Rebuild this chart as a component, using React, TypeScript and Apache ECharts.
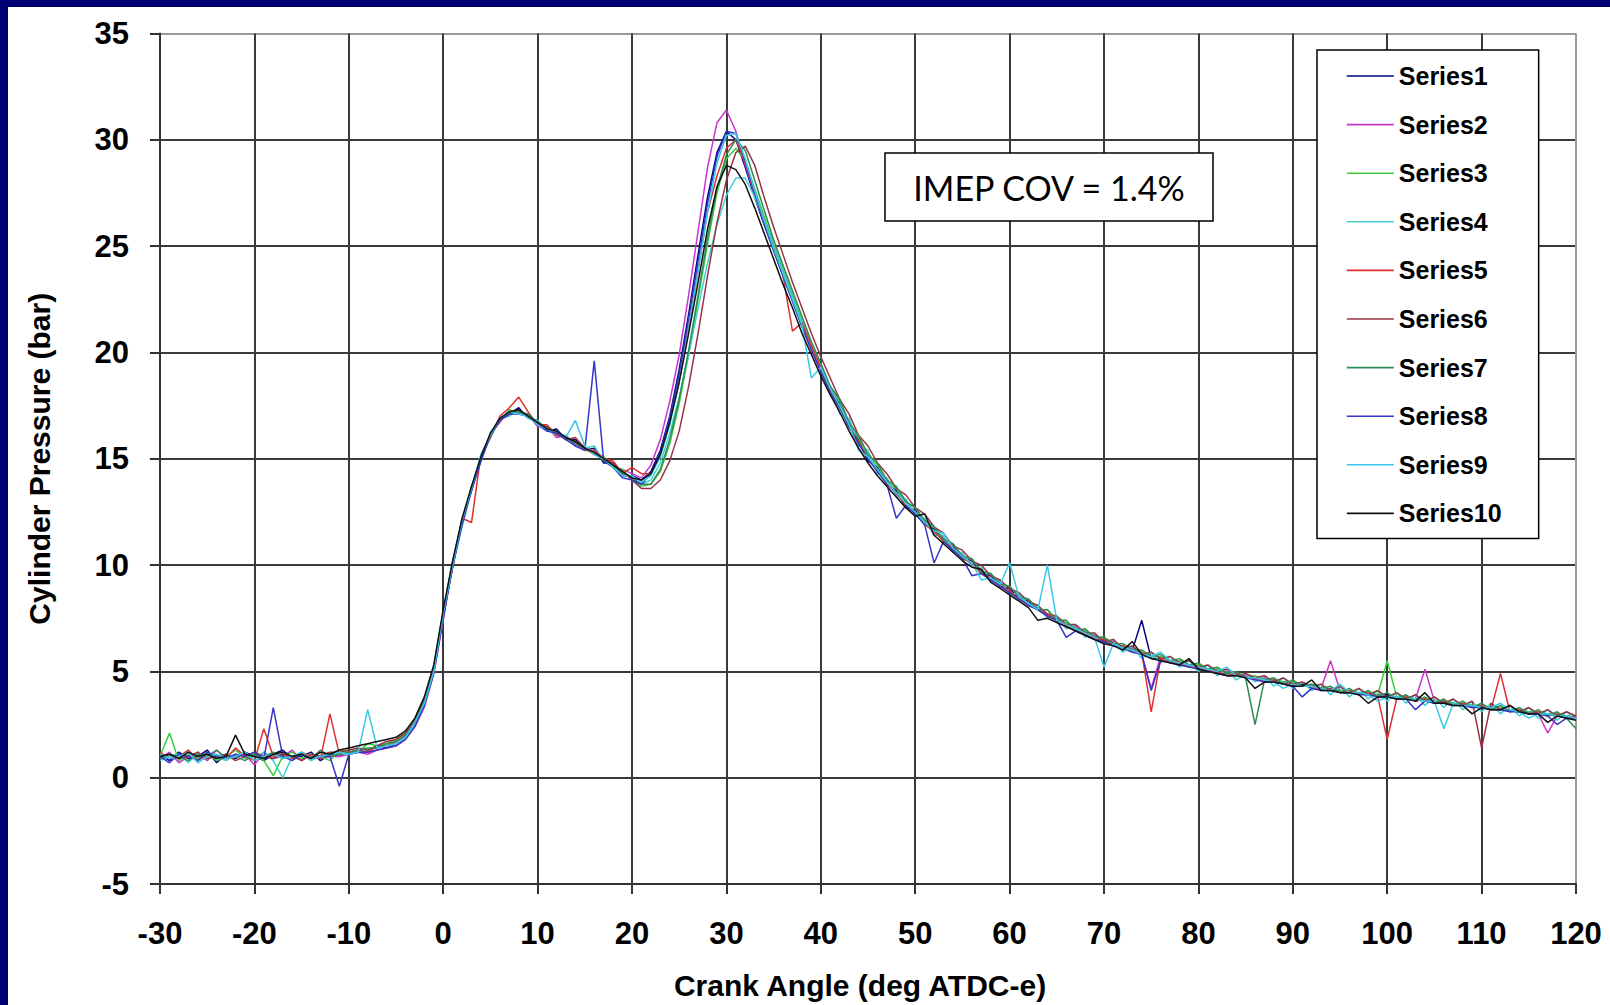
import React, { useEffect, useRef } from "react";
import * as echarts from "echarts";

// Crank-angle sample grid (deg ATDC-e), 1 deg steps
const crankAngles: number[] = [];
for (let a = -30; a <= 120; a += 1) crankAngles.push(a);

const seriesNames = ["Series1", "Series2", "Series3", "Series4", "Series5", "Series6", "Series7", "Series8", "Series9", "Series10"];
const seriesColors = ["#000080", "#CC33CC", "#3CCB3C", "#40D0D0", "#E03030", "#993344", "#2E8B57", "#3535C8", "#38C8E8", "#111111"];

const series1 = [
  1.1, 0.8, 1.2, 0.9, 1.0, 1.3, 0.7, 1.1, 0.9, 1.2, 1.0, 0.8, 1.1, 1.3, 0.9, 1.0, 1.2, 0.8, 1.1,
  1.0, 1.2, 1.3, 1.2, 1.5, 1.4, 1.6, 1.9, 2.5, 3.5, 5.0,
  7.6, 9.9, 12.1, 13.5, 15.1, 16.0, 16.9, 17.1, 17.4, 16.9, 16.8, 16.3, 16.4, 15.9, 15.9, 15.4, 15.5, 14.8, 14.8, 14.2,
  14.2, 14.0, 14.4, 15.4, 17.0, 19.2, 21.8, 24.6, 27.3, 29.4, 30.4, 30.0, 28.7, 27.3, 26.0, 24.8, 23.6, 22.5, 21.3, 20.2, 19.2,
  18.2, 17.6, 16.5, 15.9, 14.9, 14.6, 13.8, 13.5, 12.7, 12.6,
  11.9, 11.7, 11.1, 10.9, 10.3, 10.2, 9.6, 9.5, 9.0, 8.9,
  8.4, 8.3, 7.9, 7.6, 7.5, 7.1, 7.0, 6.9, 6.5, 6.5,
  6.3, 6.1, 6.0, 7.4, 5.6, 5.6, 5.5, 5.3, 5.3, 5.2,
  5.0, 5.1, 4.8, 4.9, 4.7, 4.7, 4.5, 4.6, 4.5, 4.3,
  4.4, 4.2, 4.2, 4.1, 4.1, 4.0, 4.0, 3.9, 3.9, 3.9,
  3.7, 3.8, 3.6, 3.7, 3.5, 3.6, 3.5, 3.4, 3.4, 3.3,
  3.3, 3.2, 3.2, 3.1, 3.1, 3.0, 3.0, 2.9, 2.9, 2.8,
];
const series2 = [
  0.9, 1.2, 0.7, 1.0, 1.1, 0.8, 1.3, 0.9, 1.0, 1.1, 0.6, 1.2, 0.9, 1.0, 1.3, 0.8, 1.1, 0.9, 1.0,
  1.0, 1.1, 1.2, 1.1, 1.3, 1.4, 1.5, 1.8, 2.4, 3.3, 4.9,
  7.4, 10.1, 11.9, 13.7, 14.9, 16.2, 16.7, 17.3, 17.1, 17.1, 16.5, 16.5, 16.0, 16.1, 15.6, 15.6, 15.2, 15.1, 14.6, 14.5,
  14.3, 14.1, 14.7, 15.9, 17.7, 19.9, 22.7, 25.7, 28.7, 30.8, 31.4, 30.4, 28.8, 27.4, 26.1, 24.9, 23.7, 22.5, 21.3, 20.2, 19.2,
  18.4, 17.4, 16.7, 15.7, 15.2, 14.4, 14.0, 13.3, 13.0, 12.4,
  12.1, 11.5, 11.3, 10.7, 10.5, 10.0, 9.8, 9.3, 9.2, 8.7,
  8.6, 8.1, 8.0, 7.6, 7.5, 7.1, 7.1, 6.7, 6.7, 6.4,
  6.4, 6.1, 6.1, 5.8, 4.2, 5.7, 5.4, 5.5, 5.2, 5.3,
  5.1, 4.9, 5.0, 4.8, 4.8, 4.6, 4.7, 4.5, 4.5, 4.4,
  4.3, 4.3, 4.2, 5.5, 4.1, 4.0, 4.0, 3.9, 3.9, 3.8,
  3.8, 3.7, 3.7, 5.1, 3.6, 3.5, 3.5, 3.4, 3.4, 3.3,
  3.3, 3.2, 3.2, 3.1, 3.1, 3.0, 2.1, 2.9, 2.9, 2.8,
];
const series3 = [
  1.0, 2.1, 0.8, 1.1, 0.9, 1.2, 0.8, 1.0, 1.3, 0.9, 1.1, 0.8, 0.1, 1.0, 1.2, 0.9, 1.1, 1.0, 0.8,
  1.3, 1.2, 1.2, 1.6, 1.5, 1.6, 1.8, 2.1, 2.7, 3.6, 5.2,
  7.8, 10.2, 12.0, 13.7, 15.0, 16.2, 16.8, 17.3, 17.2, 17.1, 16.6, 16.5, 16.2, 16.0, 15.8, 15.4, 15.3, 15.1, 14.6, 14.5,
  14.0, 13.7, 13.8, 14.4, 15.7, 17.6, 19.9, 22.5, 25.1, 27.5, 29.1, 29.6, 29.0, 27.7, 26.4, 25.1, 23.9, 22.7, 21.5, 20.4, 19.4,
  18.4, 17.7, 16.6, 16.0, 15.1, 14.7, 13.9, 13.6, 12.9, 12.7,
  12.0, 11.8, 11.1, 11.0, 10.4, 10.3, 9.7, 9.6, 9.1, 9.0,
  8.5, 8.4, 7.9, 7.9, 7.4, 7.3, 7.0, 6.9, 6.6, 6.6,
  6.3, 6.2, 6.0, 5.9, 5.7, 5.7, 5.5, 5.5, 5.3, 5.3,
  5.1, 5.1, 4.9, 4.9, 4.7, 4.8, 4.6, 4.6, 4.5, 4.5,
  4.3, 4.4, 4.2, 4.2, 4.1, 4.1, 4.0, 4.0, 3.9, 5.5,
  3.8, 3.8, 3.7, 3.7, 3.6, 3.6, 3.5, 3.5, 3.4, 3.4,
  3.3, 3.3, 3.2, 3.2, 3.1, 3.1, 3.0, 3.0, 2.9, 2.9,
];
const series4 = [
  0.8, 1.0, 1.1, 0.7, 1.2, 0.9, 1.0, 0.8, 1.1, 1.0, 0.9, 1.2, 0.8, 0.0, 1.0, 1.1, 0.8, 1.0, 1.2,
  1.1, 1.1, 1.2, 1.3, 1.4, 1.5, 1.6, 1.9, 2.5, 3.4, 5.0,
  7.6, 10.0, 11.8, 13.6, 14.9, 16.2, 16.9, 17.0, 17.3, 16.9, 16.8, 16.4, 16.1, 16.1, 15.7, 15.5, 15.6, 14.9, 14.8, 14.3,
  14.1, 13.8, 14.0, 14.8, 16.2, 17.9, 19.9, 22.1, 24.2, 26.0, 27.4, 28.2, 28.2, 27.3, 26.2, 25.0, 23.8, 22.6, 21.4, 20.3, 19.3,
  18.3, 17.1, 16.9, 15.6, 15.4, 14.3, 14.1, 13.2, 13.1, 12.3,
  12.2, 11.4, 11.4, 10.6, 10.6, 9.9, 9.9, 9.2, 9.3, 8.6,
  8.7, 8.1, 8.1, 7.5, 7.6, 7.0, 7.2, 6.6, 6.8, 6.3,
  6.5, 5.9, 6.2, 5.6, 5.9, 5.4, 5.7, 5.2, 5.5, 5.0,
  5.3, 4.8, 5.1, 4.6, 4.9, 4.5, 4.8, 4.3, 4.7, 4.2,
  4.5, 4.1, 4.4, 3.9, 4.3, 3.8, 4.2, 3.7, 4.1, 3.6,
  4.0, 3.5, 3.9, 3.4, 3.8, 3.3, 3.7, 3.2, 3.6, 3.1,
  3.5, 3.0, 3.4, 2.9, 3.3, 2.8, 3.2, 2.7, 3.1, 2.7,
];
const series5 = [
  1.2, 0.9, 1.0, 1.3, 0.8, 1.1, 1.0, 0.9, 1.4, 1.0, 0.8, 2.3, 1.0, 1.1, 0.9, 1.2, 1.0, 0.9, 3.0,
  1.1, 1.2, 1.3, 1.2, 1.5, 1.5, 1.7, 2.0, 2.6, 3.7, 5.2,
  7.7, 9.9, 12.2, 12.0, 15.2, 16.0, 17.0, 17.4, 17.9, 17.2, 16.6, 16.6, 16.1, 16.0, 15.8, 15.4, 15.4, 15.0, 14.9, 14.3,
  14.6, 14.3, 14.3, 15.2, 16.8, 18.8, 21.2, 23.9, 26.6, 28.3, 29.6, 30.0, 28.9, 27.5, 26.1, 24.9, 23.6, 21.0, 21.4, 20.3, 19.3,
  18.2, 17.5, 16.5, 15.8, 15.0, 14.5, 13.8, 13.4, 12.8, 12.5,
  11.9, 11.6, 11.1, 10.8, 10.3, 10.1, 9.6, 9.4, 9.0, 8.8,
  8.4, 8.2, 7.9, 7.7, 7.4, 7.2, 6.9, 6.8, 6.5, 6.5,
  6.2, 6.2, 5.9, 5.9, 3.1, 5.6, 5.4, 5.4, 5.2, 5.2,
  5.0, 5.0, 4.8, 4.9, 4.7, 4.7, 4.5, 4.6, 4.4, 4.4,
  4.3, 4.3, 4.1, 4.2, 4.0, 4.1, 3.9, 4.0, 3.8, 1.8,
  3.7, 3.8, 3.6, 3.7, 3.5, 3.6, 3.4, 3.5, 3.3, 3.4,
  3.2, 4.9, 3.1, 3.2, 3.0, 3.1, 2.9, 3.0, 2.8, 2.9,
];
const series6 = [
  1.0, 1.1, 0.9, 1.0, 1.2, 0.9, 1.0, 1.1, 0.8, 1.0, 1.2, 1.0, 0.9, 1.1, 1.0, 0.8, 1.1, 1.0, 1.2,
  1.2, 1.3, 1.4, 1.3, 1.5, 1.7, 1.8, 2.1, 2.7, 3.7, 5.1,
  7.5, 10.1, 12.0, 13.6, 15.0, 16.1, 16.8, 17.1, 17.3, 17.0, 16.7, 16.5, 16.2, 15.9, 16.0, 15.5, 15.2, 15.0, 14.8, 14.4,
  14.0, 13.6, 13.6, 14.0, 14.9, 16.3, 18.4, 20.9, 23.6, 26.1, 28.1, 29.4, 29.7, 28.8, 27.3, 25.9, 24.6, 23.3, 22.1, 20.9, 19.8,
  18.8, 17.8, 17.1, 16.1, 15.6, 14.8, 14.3, 13.6, 13.3, 12.7,
  12.4, 11.8, 11.5, 10.9, 10.7, 10.2, 10.0, 9.5, 9.3, 8.9,
  8.7, 8.3, 8.1, 7.7, 7.6, 7.2, 7.2, 6.8, 6.8, 6.4,
  6.5, 6.1, 6.2, 5.8, 5.9, 5.6, 5.7, 5.4, 5.5, 5.2,
  5.3, 5.0, 5.1, 4.8, 4.9, 4.7, 4.8, 4.5, 4.7, 4.4,
  4.5, 4.3, 4.4, 4.1, 4.3, 4.0, 4.2, 3.9, 4.1, 3.8,
  4.0, 3.7, 3.9, 3.6, 3.8, 3.5, 3.7, 3.4, 3.6, 1.4,
  3.5, 3.2, 3.4, 3.1, 3.3, 3.0, 3.2, 2.9, 3.1, 2.9,
];
const series7 = [
  0.9, 1.1, 1.0, 0.8, 1.1, 1.0, 1.3, 0.9, 1.0, 0.8, 1.1, 1.0, 1.2, 0.9, 1.0, 1.1, 0.9, 1.3, 1.0,
  1.1, 1.2, 1.3, 1.4, 1.4, 1.6, 1.7, 2.0, 2.6, 3.6, 5.1,
  7.6, 10.0, 12.1, 13.5, 15.0, 16.1, 16.8, 17.2, 17.2, 17.1, 16.7, 16.4, 16.3, 16.0, 15.7, 15.5, 15.3, 14.9, 14.7, 14.3,
  14.1, 13.8, 13.8, 14.5, 15.9, 17.8, 20.1, 22.7, 25.4, 27.7, 29.3, 30.0, 29.5, 28.1, 26.7, 25.3, 24.1, 22.9, 21.7, 20.5, 19.5,
  18.4, 17.8, 16.7, 16.1, 15.2, 14.8, 14.0, 13.7, 13.0, 12.7,
  12.1, 11.8, 11.2, 11.0, 10.4, 10.3, 9.7, 9.6, 9.1, 9.0,
  8.5, 8.4, 7.9, 7.9, 7.4, 7.4, 6.9, 7.0, 6.6, 6.6,
  6.3, 6.3, 6.0, 6.0, 5.7, 5.8, 5.5, 5.6, 5.3, 5.4,
  5.1, 5.2, 4.9, 5.0, 4.7, 2.5, 4.6, 4.7, 4.4, 4.6,
  4.3, 4.4, 4.2, 4.3, 4.0, 4.2, 3.9, 4.1, 3.8, 4.0,
  3.7, 3.9, 3.6, 3.8, 3.5, 3.7, 3.4, 3.6, 3.3, 3.5,
  3.2, 3.4, 3.1, 3.3, 3.0, 3.2, 2.9, 3.1, 2.8, 2.3,
];
const series8 = [
  1.0, 0.7, 1.1, 1.0, 0.8, 1.2, 1.0, 0.9, 1.1, 1.0, 1.2, 0.9, 3.3, 1.0, 0.8, 1.1, 0.9, 1.0, 1.0,
  -0.4, 1.1, 1.2, 1.2, 1.3, 1.4, 1.5, 1.8, 2.4, 3.4, 4.9,
  7.5, 9.9, 11.9, 13.5, 14.9, 16.1, 16.8, 17.1, 17.1, 17.0, 16.6, 16.3, 16.2, 15.9, 15.6, 15.4, 19.6, 14.9, 14.6, 14.1,
  14.0, 13.8, 14.3, 15.3, 16.9, 19.0, 21.6, 24.3, 27.0, 29.2, 30.4, 30.3, 29.0, 27.5, 26.1, 24.8, 23.6, 22.4, 21.2, 20.1, 19.1,
  18.1, 17.4, 16.5, 15.7, 15.0, 14.4, 13.8, 12.2, 12.8, 12.4,
  11.9, 10.1, 11.1, 10.7, 10.3, 9.5, 9.6, 9.3, 9.0, 8.7,
  8.4, 8.1, 7.9, 7.6, 7.4, 6.6, 6.9, 6.7, 6.5, 6.4,
  6.2, 6.1, 5.9, 5.8, 4.1, 5.5, 5.4, 5.3, 5.2, 5.1,
  5.0, 4.9, 4.8, 4.8, 4.7, 4.6, 4.5, 4.5, 4.4, 4.3,
  3.8, 4.2, 4.1, 4.1, 4.0, 4.0, 3.9, 3.9, 3.8, 3.8,
  3.7, 3.7, 3.2, 3.6, 3.5, 3.5, 3.4, 3.4, 3.3, 3.3,
  3.2, 3.2, 3.1, 3.1, 3.0, 3.0, 2.9, 2.5, 2.8, 2.8,
];
const series9 = [
  1.1, 0.9, 1.0, 1.2, 0.7, 1.0, 1.1, 0.9, 1.0, 1.2, 0.8, 1.0, 1.1, 0.9, 1.0, 1.2, 0.9, 1.0, 1.1,
  1.2, 1.1, 1.2, 3.2, 1.4, 1.5, 1.6, 1.9, 2.6, 3.5, 5.0,
  7.7, 10.0, 12.1, 13.6, 15.2, 16.1, 16.9, 17.2, 17.1, 17.0, 16.6, 16.4, 16.3, 16.0, 16.8, 15.6, 15.2, 15.0, 14.6, 14.2,
  14.2, 13.9, 14.2, 15.1, 16.6, 18.6, 21.1, 23.8, 26.6, 28.9, 30.2, 30.3, 29.1, 27.6, 26.2, 24.9, 23.7, 22.5, 21.3, 18.8, 19.3,
  18.3, 17.5, 16.6, 15.4, 15.1, 14.5, 13.9, 13.4, 12.9, 12.5,
  12.0, 11.6, 11.5, 10.8, 10.4, 10.1, 9.3, 9.4, 9.1, 10.1,
  8.5, 8.2, 7.9, 10.0, 7.4, 7.2, 7.0, 6.8, 6.6, 5.2,
  6.3, 6.1, 6.0, 5.8, 5.7, 5.9, 5.5, 5.4, 5.3, 5.2,
  5.1, 5.0, 5.2, 4.8, 4.7, 4.7, 4.6, 4.5, 4.2, 4.4,
  4.3, 4.3, 4.2, 4.1, 4.4, 4.0, 4.0, 3.9, 3.6, 3.8,
  3.8, 3.7, 3.7, 3.6, 3.6, 2.3, 3.5, 3.4, 3.4, 3.3,
  3.3, 3.5, 3.2, 3.1, 2.8, 3.0, 3.0, 2.9, 2.9, 2.8,
];
const series10 = [
  1.0, 1.1, 0.9, 1.2, 1.0, 1.1, 0.9, 1.0, 2.0, 1.1, 1.0, 0.9, 1.1, 1.2, 1.0, 1.1, 0.9, 1.2, 1.1,
  1.3, 1.4, 1.5, 1.6, 1.7, 1.8, 1.9, 2.2, 2.8, 3.8, 5.3,
  7.9, 10.2, 12.2, 13.7, 15.1, 16.2, 16.9, 17.2, 17.3, 17.0, 16.7, 16.4, 16.3, 16.0, 15.8, 15.5, 15.3, 15.0, 14.7, 14.4,
  14.1, 14.0, 14.3, 15.2, 16.7, 18.6, 20.9, 23.3, 25.8, 27.8, 28.8, 28.6, 27.9, 26.8, 25.6, 24.4, 23.2, 22.1, 20.9, 19.9, 18.9,
  18.0, 17.2, 16.3, 15.5, 14.8, 14.2, 13.7, 13.2, 12.7, 12.3,
  12.4, 11.4, 11.0, 10.6, 10.2, 9.9, 9.8, 9.2, 8.9, 8.6,
  8.3, 8.0, 7.4, 7.5, 7.3, 7.1, 6.9, 6.7, 6.5, 6.3,
  6.2, 6.0, 6.4, 5.8, 5.6, 5.5, 5.4, 5.3, 5.6, 5.1,
  5.0, 4.9, 4.8, 4.8, 4.7, 4.2, 4.5, 4.5, 4.4, 4.3,
  4.3, 4.6, 4.1, 4.1, 4.0, 4.0, 3.9, 3.5, 3.8, 3.8,
  3.7, 3.7, 3.6, 4.0, 3.5, 3.5, 3.4, 3.4, 3.0, 3.3,
  3.2, 3.2, 3.4, 3.1, 3.0, 3.0, 2.6, 2.9, 2.8, 2.7,
];

const allSeries = [series1, series2, series3, series4, series5, series6, series7, series8, series9, series10];

const X_MIN = -30, X_MAX = 120, X_STEP = 10;
const Y_MIN = -5, Y_MAX = 35, Y_STEP = 5;
const annotationText = "IMEP COV = 1.4%";
const xTitle = "Crank Angle (deg ATDC-e)";
const yTitle = "Cylinder Pressure (bar)";

const FONT = "'Liberation Sans', Arial, Helvetica, sans-serif";

function buildOption() {
  const nx = (X_MAX - X_MIN) / X_STEP + 1;
  const ny = (Y_MAX - Y_MIN) / Y_STEP + 1;
  const xSplitColors = Array.from({ length: nx }, (_, i) => (i === nx - 1 ? "#9a9a9a" : "#3a3a3a"));
  const ySplitColors = Array.from({ length: ny }, (_, i) => (i === ny - 1 ? "#9a9a9a" : "#3a3a3a"));
  return {
    animation: false,
    backgroundColor: "#ffffff",
    grid: { left: 160, right: 34, top: 33.5, bottom: 119, containLabel: false },
    xAxis: {
      type: "value",
      min: X_MIN,
      max: X_MAX,
      interval: X_STEP,
      name: xTitle,
      nameLocation: "middle",
      nameGap: 86,
      nameTextStyle: { fontFamily: FONT, fontWeight: "bold", fontSize: 30, color: "#000", padding: [0, 16, 0, 0] },
      axisLine: { show: true, onZero: false, lineStyle: { color: "#333", width: 2 } },
      axisTick: { show: true, inside: false, length: 10, lineStyle: { color: "#333", width: 2 } },
      axisLabel: { margin: 34, fontFamily: FONT, fontWeight: "bold", fontSize: 31, color: "#000" },
      splitLine: { show: true, lineStyle: { color: xSplitColors, width: 2 } },
    },
    yAxis: {
      type: "value",
      min: Y_MIN,
      max: Y_MAX,
      interval: Y_STEP,
      name: yTitle,
      nameLocation: "middle",
      nameRotate: 90,
      nameGap: 106,
      nameTextStyle: { fontFamily: FONT, fontWeight: "bold", fontSize: 30, color: "#000" },
      axisLine: { show: true, onZero: false, lineStyle: { color: "#333", width: 2 } },
      axisTick: { show: true, inside: false, length: 10, lineStyle: { color: "#333", width: 2 } },
      axisLabel: { margin: 31, fontFamily: FONT, fontWeight: "bold", fontSize: 31, color: "#000" },
      splitLine: { show: true, lineStyle: { color: ySplitColors, width: 2 } },
    },
    legend: {
      orient: "vertical",
      left: 1317,
      top: 50,
      padding: [11, 37, 10, 29],
      itemWidth: 47,
      itemHeight: 14,
      itemGap: 18.6,
      backgroundColor: "#ffffff",
      borderColor: "#000",
      borderWidth: 1.5,
      borderRadius: 0,
      itemStyle: { color: "transparent", borderColor: "transparent", borderWidth: 0, opacity: 0 },
      lineStyle: { width: 1.6 },
      textStyle: { fontFamily: FONT, fontWeight: "bold", fontSize: 25, color: "#000", lineHeight: 30 },
      data: seriesNames,
      z: 10,
    },
    graphic: [
      { type: "rect", z: 100, silent: true, shape: { x: 0, y: 0, width: 1610, height: 7 }, style: { fill: "#000075" } },
      { type: "rect", z: 100, silent: true, shape: { x: 0, y: 0, width: 8, height: 1005 }, style: { fill: "#000075" } },
      {
        type: "rect",
        z: 100,
        silent: true,
        shape: { x: 885, y: 153, width: 328, height: 68 },
        style: { fill: "#ffffff", stroke: "#000", lineWidth: 1.5 },
      },
      {
        type: "text",
        z: 101,
        silent: true,
        x: 1049,
        y: 187,
        style: {
          text: annotationText,
          fontFamily: "Lato, 'Open Sans', sans-serif",
          fontSize: 34,
          fill: "#000",
          align: "center",
          verticalAlign: "middle",
        },
      },
    ],
    series: allSeries.map((vals, si) => ({
      name: seriesNames[si],
      type: "line",
      symbol: "none",
      showSymbol: false,
      clip: true,
      z: 2 + si * 0.01,
      lineStyle: { width: 1.5, color: seriesColors[si] },
      itemStyle: { color: seriesColors[si] },
      data: crankAngles.map((x, i) => [x, vals[i]]),
    })),
  };
}

export default function App() {
  const ref = useRef<HTMLDivElement>(null);
  useEffect(() => {
    if (!ref.current) return;
    const chart = echarts.init(ref.current, undefined, { renderer: "svg" });
    chart.setOption(buildOption() as any);
    return () => chart.dispose();
  }, []);
  return (
    <div
      ref={ref}
      style={{ position: "fixed", left: 0, top: 0, width: 1610, height: 1005, background: "#fff" }}
    />
  );
}
